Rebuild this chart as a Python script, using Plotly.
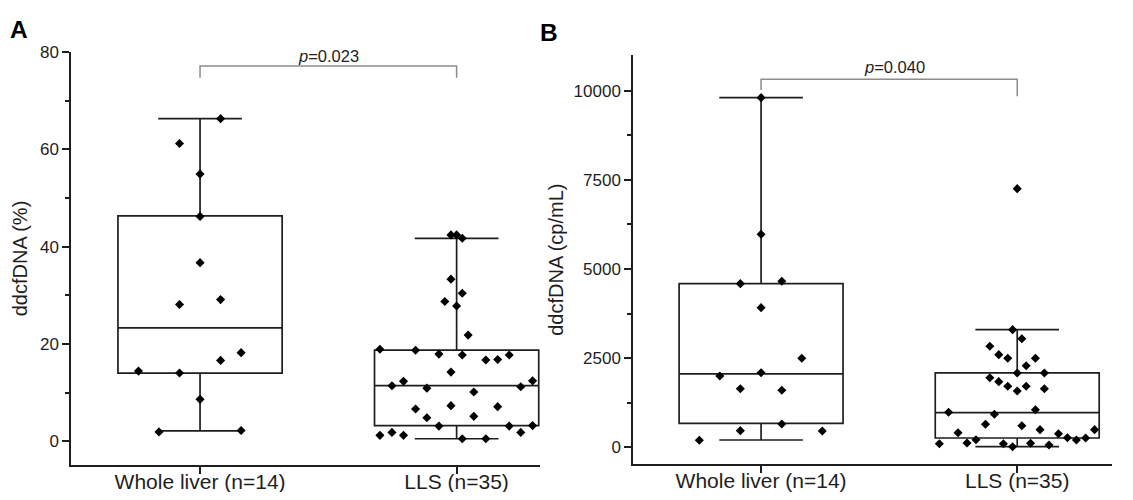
import plotly.graph_objects as go

# ---------------- data ----------------
categories = ["Whole liver (n=14)", "LLS (n=35)"]

# Panel A: ddcfDNA (%)
a_whole_vals = [66.3, 61.2, 54.9, 46.2, 36.7, 28.1, 29.1, 18.2, 16.6, 14.4, 14.0, 8.6, 1.9, 2.2]
a_whole_jit = [0.08, -0.08, 0.0, 0.0, 0.0, -0.08, 0.08, 0.16, 0.08, -0.24, -0.08, 0.0, -0.16, 0.16]
a_lls_vals = [42.4, 42.4, 41.7, 33.3, 30.4, 28.7, 27.8, 21.8, 18.9, 18.7, 17.9, 17.7, 16.7, 16.8,
              17.7, 14.2, 12.3, 11.4, 10.9, 10.1, 11.2, 12.4, 6.6, 7.3, 7.1, 4.8, 5.1, 3.1, 3.1,
              3.2, 1.8, 1.2, 1.8, 1.2, 0.5, 0.5]
a_lls_jit = [-0.022, 0.0, 0.022, -0.022, 0.022, -0.046, 0.0, 0.045, -0.299, -0.160, -0.069, 0.022,
             0.114, 0.160, 0.205, -0.022, -0.207, -0.252, -0.116, 0.067, 0.250, 0.296, -0.160,
             -0.022, 0.160, -0.116, 0.067, -0.069, 0.205, 0.296, 0.250, -0.299, -0.252, -0.207,
             0.022, 0.114]
# box stats [lowerfence, q1, median, q3, upperfence]
a_whole_box = [2.1, 14.0, 23.3, 46.3, 66.3]
a_lls_box = [0.5, 3.2, 11.4, 18.7, 41.7]

# Panel B: ddcfDNA (cp/mL)
b_whole_vals = [9804, 5973, 4588, 4655, 3915, 2496, 2092, 1999, 1643, 1598, 653, 466, 457, 196]
b_whole_jit = [0.0, 0.0, -0.081, 0.081, 0.0, 0.159, 0.0, -0.161, -0.081, 0.081, 0.081, -0.081, 0.239, -0.241]
b_lls_vals = [7252, 3298, 3045, 2832, 2597, 2496, 2496, 2288, 2084, 2084, 1952, 1840, 1711, 1580,
              1711, 1643, 981, 1054, 925, 645, 606, 494, 409, 381, 269, 205, 261, 494, 101, 121,
              213, 101, 15, 112, 64]
b_lls_jit = [0.0, -0.018, 0.018, -0.107, -0.072, -0.037, 0.071, 0.035, 0.0, 0.106, -0.107, -0.072,
             -0.037, 0.0, 0.035, 0.106, -0.268, 0.071, -0.089, -0.124, 0.018, 0.089, -0.231, 0.161,
             0.196, 0.231, 0.267, 0.302, -0.304, -0.196, -0.161, -0.054, -0.018, 0.052, 0.124]
b_whole_box = [205, 673, 2056, 4588, 9804]
b_lls_box = [17, 261, 970, 2084, 3298]

p_texts = ["<i>p</i>=0.023", "<i>p</i>=0.040"]

# ---------------- style ----------------
W, H = 1117, 484      # page body has an 8px margin
OFF = 8
INK = "#1e1e1e"
FONT = "Liberation Sans, Arial, sans-serif"
BOX_W = 0.64
WHISK = 0.51


def xf(px):
    return (px - OFF) / W


def yf(py):
    return 1 - (py - OFF) / H


fig = go.Figure()


def add_panel(xa, ya, whole_vals, whole_jit, lls_vals, lls_jit, whole_box, lls_box):
    for pos, st in ((0, whole_box), (1, lls_box)):
        fig.add_trace(go.Box(
            x=[pos], lowerfence=[st[0]], q1=[st[1]], median=[st[2]], q3=[st[3]],
            upperfence=[st[4]], width=BOX_W, whiskerwidth=WHISK, boxpoints=False,
            fillcolor="rgba(0,0,0,0)", line=dict(color=INK, width=1.7),
            xaxis=xa, yaxis=ya, showlegend=False, hoverinfo="skip"))
    for pos, vals, jit in ((0, whole_vals, whole_jit), (1, lls_vals, lls_jit)):
        fig.add_trace(go.Scatter(
            x=[pos + j for j in jit], y=vals, mode="markers",
            marker=dict(symbol="diamond", size=7, color="black"),
            xaxis=xa, yaxis=ya, showlegend=False, cliponaxis=False, hoverinfo="skip"))


add_panel("x", "y", a_whole_vals, a_whole_jit, a_lls_vals, a_lls_jit, a_whole_box, a_lls_box)
add_panel("x2", "y2", b_whole_vals, b_whole_jit, b_lls_vals, b_lls_jit, b_whole_box, b_lls_box)

axis_common = dict(showline=True, linecolor=INK, linewidth=1.5, ticks="outside", ticklen=7,
                   tickwidth=1.5, tickcolor=INK, showgrid=False, zeroline=False, automargin=False,
                   tickfont=dict(family=FONT, size=17, color=INK))

xcommon = dict(axis_common, tickvals=[0, 1], ticktext=categories, ticklabelstandoff=-10,
               tickfont=dict(family=FONT, size=21, color=INK))

fig.update_layout(
    width=W, height=H, margin=dict(l=0, r=0, t=0, b=0, pad=0),
    plot_bgcolor="white", paper_bgcolor="white",
    xaxis=dict(xcommon, domain=[xf(71), xf(540)], range=[-0.503, 1.325], anchor="y"),
    yaxis=dict(axis_common, domain=[yf(465), yf(52)], range=[-4.9, 80], anchor="x",
               tickvals=[0, 20, 40, 60, 80],
               minor=dict(dtick=10, ticks="outside", ticklen=4, tickwidth=1.5, tickcolor=INK),
               title=dict(text="ddcfDNA (%)", font=dict(family=FONT, size=20, color=INK), standoff=7)),
    xaxis2=dict(xcommon, domain=[xf(633), xf(1112)], range=[-0.5, 1.37], anchor="y2"),
    yaxis2=dict(axis_common, domain=[yf(464.3), yf(55)], range=[-477, 11000], anchor="x2",
                tickvals=[0, 2500, 5000, 7500, 10000], tickformat="d",
                minor=dict(dtick=1250, ticks="outside", ticklen=4, tickwidth=1.5, tickcolor=INK),
                title=dict(text="ddcfDNA (cp/mL)", font=dict(family=FONT, size=20, color=INK), standoff=5)),
)

# significance brackets
BR = "#8c8c8c"
fig.add_shape(type="path", xref="x", yref="y", path="M 0,74.7 L 0,77.1 L 1,77.1 L 1,74.7",
              line=dict(color=BR, width=1.5))
fig.add_shape(type="path", xref="x2", yref="y2", path="M 0,10020 L 0,10320 L 1,10320 L 1,9840",
              line=dict(color=BR, width=1.5))

fig.add_annotation(text=p_texts[0], x=0.5, xref="x", y=yf(56), yref="paper", yanchor="middle",
                   showarrow=False, font=dict(family=FONT, size=16.5, color=INK))
fig.add_annotation(text=p_texts[1], x=0.52, xref="x2", y=yf(67), yref="paper", yanchor="middle",
                   showarrow=False, font=dict(family=FONT, size=16.5, color=INK))

# panel letters
fig.add_annotation(text="<b>A</b>", x=xf(8), y=yf(29), xref="paper", yref="paper",
                   xanchor="left", yanchor="middle", showarrow=False,
                   font=dict(family=FONT, size=24.5, color="black"))
fig.add_annotation(text="<b>B</b>", x=xf(538), y=yf(32), xref="paper", yref="paper",
                   xanchor="left", yanchor="middle", showarrow=False,
                   font=dict(family=FONT, size=24.5, color="black"))

fig.write_html("out.html")
